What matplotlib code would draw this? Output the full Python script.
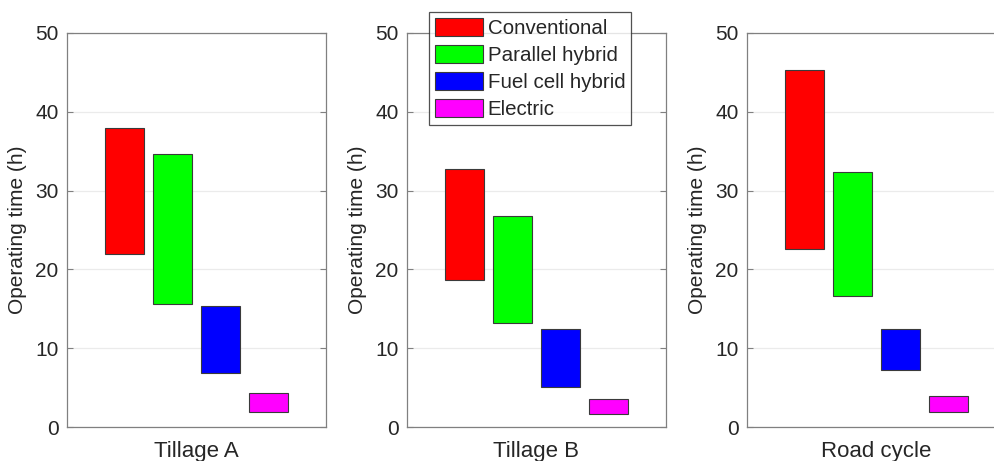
import numpy as np
import matplotlib
matplotlib.use('Agg')
import matplotlib.pyplot as plt

# range of operating time (h) per powertrain, per cycle
cycles = ['Tillage A', 'Tillage B', 'Road cycle']
powertrains = ['Conventional', 'Parallel hybrid', 'Fuel cell hybrid', 'Electric']
colors = ['#FF0000', '#00FF00', '#0000FF', '#FF00FF']

low_tillage_a = [21.9, 15.6, 6.8, 1.95]
high_tillage_a = [37.9, 34.6, 15.4, 4.35]
low_tillage_b = [18.6, 13.25, 5.05, 1.6]
high_tillage_b = [32.8, 26.8, 12.4, 3.5]
low_road = [22.65, 16.6, 7.25, 1.95]
high_road = [45.3, 32.4, 12.4, 3.95]

lows = [low_tillage_a, low_tillage_b, low_road]
highs = [high_tillage_a, high_tillage_b, high_road]

plt.rcParams['font.family'] = ['Liberation Sans', 'DejaVu Sans']
txt = '#262626'

fig = plt.figure(figsize=(9.95, 4.61), dpi=100)
lefts = [67, 407, 747]
x = np.arange(1, 5)

for i, name in enumerate(cycles):
    ax = fig.add_axes([lefts[i] / 995, 34 / 461, 259 / 995, 394 / 461])
    lo = np.array(lows[i])
    hi = np.array(highs[i])
    ax.bar(x, hi - lo, bottom=lo, width=0.8, color=colors,
           edgecolor='#3a3a3a', linewidth=0.8, zorder=3)
    ax.set_xlim(-0.2, 5.2)
    ax.set_ylim(0, 50)
    ax.set_yticks([0, 10, 20, 30, 40, 50])
    ax.set_xticks([])
    ax.yaxis.grid(True, color='#ebebeb', linewidth=0.9, zorder=0)
    ax.tick_params(axis='y', direction='in', length=4, right=True,
                   labelsize=15, labelcolor=txt, color='#808080', pad=6)
    for s in ax.spines.values():
        s.set_color('#808080')
        s.set_linewidth(0.9)
    ax.set_ylabel('Operating time (h)', fontsize=15, color=txt, labelpad=6)
    ax.set_xlabel(name, fontsize=16, color=txt, labelpad=10)
    if i == 1:
        handles = [plt.Rectangle((0, 0), 1, 1, facecolor=c, edgecolor='#3a3a3a', linewidth=0.8)
                   for c in colors]
        leg = fig.legend(handles, powertrains, loc='upper left',
                         bbox_to_anchor=(429 / 995, 1 - 12 / 461),
                         fontsize=14.8, frameon=True, fancybox=False,
                         edgecolor='#262626', borderpad=0.3, labelspacing=0.34,
                         handlelength=2.35, handleheight=0.95, handletextpad=0.2,
                         borderaxespad=0)
        leg.get_frame().set_linewidth(0.9)
        for t in leg.get_texts():
            t.set_color(txt)

fig.savefig('out.png', dpi=100, facecolor='white')
